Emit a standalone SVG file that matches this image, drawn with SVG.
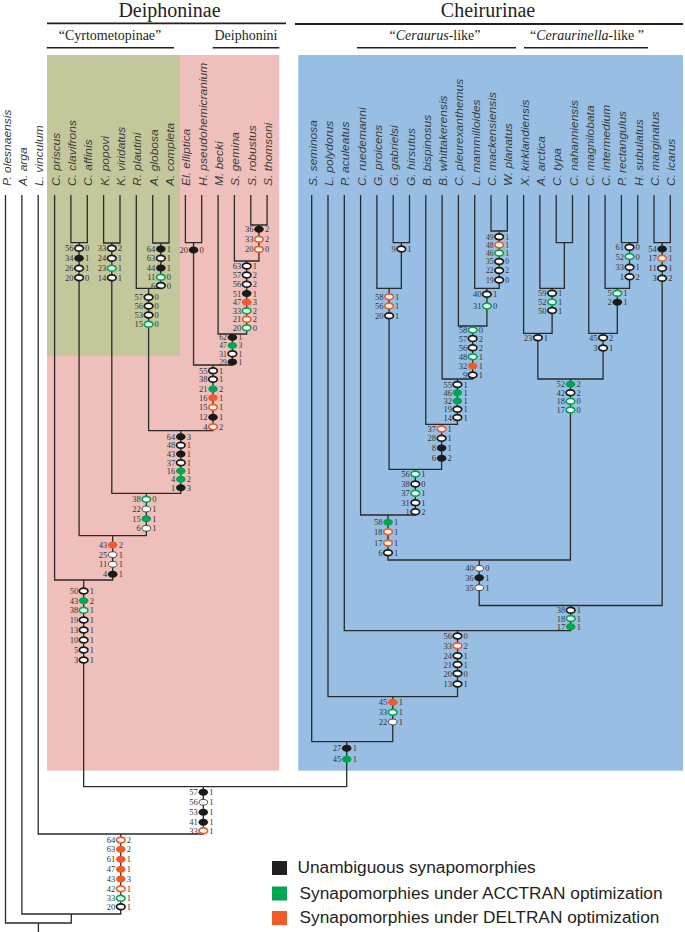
<svg xmlns="http://www.w3.org/2000/svg" xmlns:xlink="http://www.w3.org/1999/xlink" width="685" height="932" viewBox="0 0 685 932">
<style>
.ln{fill:none;stroke:#2a2a2a;stroke-width:1.3}
.ul{stroke:#231f20;stroke-width:1.8}
.ob{fill:#fff;stroke:#1a1a1a;stroke-width:1.7}
.fb{fill:#1a1a1a}
.og{fill:#fff;stroke:#00a651;stroke-width:1.7}
.fg{fill:#00a651}
.oo{fill:#fff;stroke:#f15a29;stroke-width:1.7}
.fo{fill:#f15a29}
.w{fill:#fff;stroke:#333;stroke-width:0.9}
.nl{font-family:"Liberation Serif",serif;font-size:8.5px;fill:#333;text-anchor:end}
.nr{font-family:"Liberation Serif",serif;font-size:8.5px;fill:#333}
#node-H text,#node-c text{font-size:7.6px}
.tx{font-family:"Liberation Sans",Arial,sans-serif;font-style:italic;font-size:10px;fill:#3a3a3a}
.hd{font-family:"Liberation Serif","Times New Roman",serif;fill:#231f20;text-anchor:middle}
.lg{font-family:"Liberation Sans",Arial,sans-serif;font-size:17.3px;fill:#231f20}
</style>
<defs>
<ellipse id="e" cx="0" cy="0" rx="4.3" ry="2.9"/>
<ellipse id="f" cx="0" cy="0" rx="4.8" ry="3.5"/>
</defs>
<rect width="685" height="932" fill="#fff"/>
<rect x="47" y="55" width="232.3" height="715.7" fill="#efc0bb"/>
<rect x="47" y="55" width="133" height="301" fill="#c4c79b"/>
<rect x="298.3" y="55" width="384.7" height="715.7" fill="#98bfe3"/>
<g id="headers">
<text class="hd" x="169.5" y="17" font-size="20">Deiphoninae</text>
<line class="ul" x1="47" y1="23.3" x2="286" y2="23.3"/>
<text class="hd" x="488" y="17" font-size="20">Cheirurinae</text>
<line class="ul" x1="295" y1="24" x2="683" y2="24"/>
<text class="hd" x="110" y="40" font-size="14">“Cyrtometopinae”</text>
<line class="ul" x1="46.7" y1="47.7" x2="174" y2="47.7" style="stroke-width:1.6"/>
<text class="hd" x="246" y="40" font-size="14">Deiphonini</text>
<line class="ul" x1="212.7" y1="47.7" x2="279.3" y2="47.7" style="stroke-width:1.6"/>
<text class="hd" x="435" y="40" font-size="14">“<tspan font-style="italic">Ceraurus</tspan>-like”</text>
<line class="ul" x1="357" y1="47.7" x2="516" y2="47.7" style="stroke-width:1.6"/>
<text class="hd" x="587" y="40" font-size="14">“<tspan font-style="italic">Ceraurinella</tspan>-like ”</text>
<line class="ul" x1="524" y1="47.7" x2="648" y2="47.7" style="stroke-width:1.6"/>
</g>
<g id="connectors" class="ln">
<path d="M70.9 195V242.7H87.3V195"/>
<path d="M103.6 195V243H120V195"/>
<path d="M152.7 195V243H169V195"/>
<path d="M136.3 195V288.3H160.85V243"/>
<path d="M185.4 195V242.7H201.7V195"/>
<path d="M250.8 195V225H267.1V195"/>
<path d="M234.4 195V261H258.95V225"/>
<path d="M218.1 195V334H246.7V261"/>
<path d="M193.55 242.7V365H232.4V334"/>
<path d="M148.6 288.3V430.7H213V365"/>
<path d="M111.8 243V493.3H180.8V430.7"/>
<path d="M79.1 242.7V535.7H146.3V493.3"/>
<path d="M54.6 195V580H112.7V535.7"/>
<path d="M393.2 195V242.7H409.5V195"/>
<path d="M376.9 195V288.3H401.35V242.7"/>
<path d="M491 195V231H507.3V195"/>
<path d="M474.7 195V288.3H499.15V231"/>
<path d="M458.4 195V326H486.9V288.3"/>
<path d="M442.1 195V379H472.65V326"/>
<path d="M425.8 195V424.3H457.4V379"/>
<path d="M389.1 288.3V469.3H441.6V424.3"/>
<path d="M360.6 195V515H415.35V469.3"/>
<path d="M556.2 195V242.7H572.5V195"/>
<path d="M539.9 195V288.3H564.35V242.7"/>
<path d="M523.6 195V333.3H552.1V288.3"/>
<path d="M621.4 195V242.7H637.7V195"/>
<path d="M605.1 195V288.3H629.55V242.7"/>
<path d="M588.8 195V333.3H617.3V288.3"/>
<path d="M537.85 333.3V379H603.05V333.3"/>
<path d="M388 515V560H570.45V379"/>
<path d="M654 195V242.7H670.3V195"/>
<path d="M479.2 560V605.5H662.15V242.7"/>
<path d="M344.3 195V630.7H570.7V605.5"/>
<path d="M328 195V696.7H457.5V630.7"/>
<path d="M311.7 195V741.7H392.75V696.7"/>
<path d="M83.65 580V786.7H346.7V741.7"/>
<path d="M38.2 195V834H203.3V786.7"/>
<path d="M21.9 195V914H120.75V834"/>
<path d="M5.5 195V923H71.3V914"/>
<path d="M38.4 923V932"/>
</g>
<g id="taxa">
<text id="t-P-olesnaensis" class="tx" transform="translate(10.5,186) rotate(-90) scale(1.2,1)">P. olesnaensis</text>
<text id="t-A-arga" class="tx" transform="translate(26.9,186) rotate(-90) scale(1.2,1)">A. arga</text>
<text id="t-L-vinculum" class="tx" transform="translate(43.2,186) rotate(-90) scale(1.2,1)">L. vinculum</text>
<text id="t-C-priscus" class="tx" transform="translate(59.6,186) rotate(-90) scale(1.2,1)">C. priscus</text>
<text id="t-C-clavifrons" class="tx" transform="translate(75.9,186) rotate(-90) scale(1.2,1)">C. clavifrons</text>
<text id="t-C-affinis" class="tx" transform="translate(92.3,186) rotate(-90) scale(1.2,1)">C. affinis</text>
<text id="t-K-popovi" class="tx" transform="translate(108.6,186) rotate(-90) scale(1.2,1)">K. popovi</text>
<text id="t-K-viridatus" class="tx" transform="translate(125,186) rotate(-90) scale(1.2,1)">K. viridatus</text>
<text id="t-R-plautini" class="tx" transform="translate(141.3,186) rotate(-90) scale(1.2,1)">R. plautini</text>
<text id="t-A-globosa" class="tx" transform="translate(157.7,186) rotate(-90) scale(1.2,1)">A. globosa</text>
<text id="t-A-completa" class="tx" transform="translate(174,186) rotate(-90) scale(1.2,1)">A. completa</text>
<text id="t-El-elliptica" class="tx" transform="translate(190.4,186) rotate(-90) scale(1.2,1)">El. elliptica</text>
<text id="t-H-pseudohemicranium" class="tx" transform="translate(206.7,186) rotate(-90) scale(1.2,1)">H. pseudohemicranium</text>
<text id="t-M-becki" class="tx" transform="translate(223.1,186) rotate(-90) scale(1.2,1)">M. becki</text>
<text id="t-S-gemina" class="tx" transform="translate(239.4,186) rotate(-90) scale(1.2,1)">S. gemina</text>
<text id="t-S-robustus" class="tx" transform="translate(255.8,186) rotate(-90) scale(1.2,1)">S. robustus</text>
<text id="t-S-thomsoni" class="tx" transform="translate(272.1,186) rotate(-90) scale(1.2,1)">S. thomsoni</text>
<text id="t-S-seminosa" class="tx" transform="translate(316.7,186) rotate(-90) scale(1.2,1)">S. seminosa</text>
<text id="t-L-polydorus" class="tx" transform="translate(333,186) rotate(-90) scale(1.2,1)">L. polydorus</text>
<text id="t-P-aculeatus" class="tx" transform="translate(349.3,186) rotate(-90) scale(1.2,1)">P. aculeatus</text>
<text id="t-C-ruedemanni" class="tx" transform="translate(365.6,186) rotate(-90) scale(1.2,1)">C. ruedemanni</text>
<text id="t-G-proicens" class="tx" transform="translate(381.9,186) rotate(-90) scale(1.2,1)">G. proicens</text>
<text id="t-G-gabrielsi" class="tx" transform="translate(398.2,186) rotate(-90) scale(1.2,1)">G. gabrielsi</text>
<text id="t-G-hirsutus" class="tx" transform="translate(414.5,186) rotate(-90) scale(1.2,1)">G. hirsutus</text>
<text id="t-B-bispinosus" class="tx" transform="translate(430.8,186) rotate(-90) scale(1.2,1)">B. bispinosus</text>
<text id="t-B-whittakerensis" class="tx" transform="translate(447.1,186) rotate(-90) scale(1.2,1)">B. whittakerensis</text>
<text id="t-C-pleurexanthemus" class="tx" transform="translate(463.4,186) rotate(-90) scale(1.2,1)">C. pleurexanthemus</text>
<text id="t-L-mammilloides" class="tx" transform="translate(479.7,186) rotate(-90) scale(1.2,1)">L. mammilloides</text>
<text id="t-C-mackensiensis" class="tx" transform="translate(496,186) rotate(-90) scale(1.2,1)">C. mackensiensis</text>
<text id="t-W-planatus" class="tx" transform="translate(512.3,186) rotate(-90) scale(1.2,1)">W. planatus</text>
<text id="t-X-kirklandiensis" class="tx" transform="translate(528.6,186) rotate(-90) scale(1.2,1)">X. kirklandiensis</text>
<text id="t-A-arctica" class="tx" transform="translate(544.9,186) rotate(-90) scale(1.2,1)">A. arctica</text>
<text id="t-C-typa" class="tx" transform="translate(561.2,186) rotate(-90) scale(1.2,1)">C. typa</text>
<text id="t-C-nahanniensis" class="tx" transform="translate(577.5,186) rotate(-90) scale(1.2,1)">C. nahanniensis</text>
<text id="t-C-magnilobata" class="tx" transform="translate(593.8,186) rotate(-90) scale(1.2,1)">C. magnilobata</text>
<text id="t-C-intermedium" class="tx" transform="translate(610.1,186) rotate(-90) scale(1.2,1)">C. intermedium</text>
<text id="t-P-rectangulus" class="tx" transform="translate(626.4,186) rotate(-90) scale(1.2,1)">P. rectangulus</text>
<text id="t-H-subulatus" class="tx" transform="translate(642.7,186) rotate(-90) scale(1.2,1)">H. subulatus</text>
<text id="t-C-marginatus" class="tx" transform="translate(659,186) rotate(-90) scale(1.2,1)">C. marginatus</text>
<text id="t-C-icarus" class="tx" transform="translate(675.3,186) rotate(-90) scale(1.2,1)">C. icarus</text>
</g>
<g id="node-A">
<use href="#e" class="ob" x="79.1" y="248.3"/><text class="nl" x="73.6" y="251.3">56</text><text class="nr" x="85.1" y="251.3">0</text>
<use href="#f" class="fb" x="79.1" y="258.3"/><text class="nl" x="73.6" y="261.3">34</text><text class="nr" x="85.1" y="261.3">1</text>
<use href="#e" class="ob" x="79.1" y="268.3"/><text class="nl" x="73.6" y="271.3">26</text><text class="nr" x="85.1" y="271.3">1</text>
<use href="#e" class="ob" x="79.1" y="277.7"/><text class="nl" x="73.6" y="280.7">20</text><text class="nr" x="85.1" y="280.7">0</text>
</g>
<g id="node-B">
<use href="#e" class="ob" x="111.8" y="248.3"/><text class="nl" x="106.3" y="251.3">33</text><text class="nr" x="117.8" y="251.3">2</text>
<use href="#e" class="ob" x="111.8" y="258.3"/><text class="nl" x="106.3" y="261.3">24</text><text class="nr" x="117.8" y="261.3">1</text>
<use href="#e" class="og" x="111.8" y="268.3"/><text class="nl" x="106.3" y="271.3">23</text><text class="nr" x="117.8" y="271.3">1</text>
<use href="#e" class="ob" x="111.8" y="277.7"/><text class="nl" x="106.3" y="280.7">14</text><text class="nr" x="117.8" y="280.7">1</text>
</g>
<g id="node-C">
<use href="#f" class="fb" x="160.85" y="249"/><text class="nl" x="155.35" y="252">64</text><text class="nr" x="166.85" y="252">1</text>
<use href="#e" class="ob" x="160.85" y="258.3"/><text class="nl" x="155.35" y="261.3">63</text><text class="nr" x="166.85" y="261.3">1</text>
<use href="#f" class="fb" x="160.85" y="268"/><text class="nl" x="155.35" y="271">44</text><text class="nr" x="166.85" y="271">1</text>
<use href="#e" class="og" x="160.85" y="277.3"/><text class="nl" x="155.35" y="280.3">11</text><text class="nr" x="166.85" y="280.3">0</text>
<use href="#e" class="ob" x="160.85" y="285.5"/><text class="nl" x="155.35" y="288.5">6</text><text class="nr" x="166.85" y="288.5">0</text>
</g>
<g id="node-D">
<use href="#e" class="ob" x="148.6" y="297.3"/><text class="nl" x="143.1" y="300.3">57</text><text class="nr" x="154.6" y="300.3">0</text>
<use href="#e" class="ob" x="148.6" y="306"/><text class="nl" x="143.1" y="309">56</text><text class="nr" x="154.6" y="309">0</text>
<use href="#e" class="ob" x="148.6" y="315"/><text class="nl" x="143.1" y="318">53</text><text class="nr" x="154.6" y="318">0</text>
<use href="#e" class="og" x="148.6" y="324.3"/><text class="nl" x="143.1" y="327.3">15</text><text class="nr" x="154.6" y="327.3">0</text>
</g>
<g id="node-E">
<use href="#f" class="fb" x="193.55" y="250"/><text class="nl" x="188.05" y="253">20</text><text class="nr" x="199.55" y="253">0</text>
</g>
<g id="node-F">
<use href="#f" class="fb" x="258.95" y="229.3"/><text class="nl" x="253.45" y="232.3">36</text><text class="nr" x="264.95" y="232.3">2</text>
<use href="#e" class="oo" x="258.95" y="239.3"/><text class="nl" x="253.45" y="242.3">33</text><text class="nr" x="264.95" y="242.3">2</text>
<use href="#e" class="oo" x="258.95" y="249.3"/><text class="nl" x="253.45" y="252.3">20</text><text class="nr" x="264.95" y="252.3">0</text>
</g>
<g id="node-G">
<use href="#e" class="ob" x="246.7" y="266"/><text class="nl" x="241.2" y="269">63</text><text class="nr" x="252.7" y="269">1</text>
<use href="#e" class="ob" x="246.7" y="275"/><text class="nl" x="241.2" y="278">57</text><text class="nr" x="252.7" y="278">2</text>
<use href="#e" class="ob" x="246.7" y="284.3"/><text class="nl" x="241.2" y="287.3">56</text><text class="nr" x="252.7" y="287.3">2</text>
<use href="#f" class="fb" x="246.7" y="293.5"/><text class="nl" x="241.2" y="296.5">51</text><text class="nr" x="252.7" y="296.5">1</text>
<use href="#f" class="fo" x="246.7" y="302.3"/><text class="nl" x="241.2" y="305.3">47</text><text class="nr" x="252.7" y="305.3">3</text>
<use href="#e" class="og" x="246.7" y="310.8"/><text class="nl" x="241.2" y="313.8">33</text><text class="nr" x="252.7" y="313.8">2</text>
<use href="#e" class="oo" x="246.7" y="319.3"/><text class="nl" x="241.2" y="322.3">21</text><text class="nr" x="252.7" y="322.3">2</text>
<use href="#e" class="og" x="246.7" y="327.8"/><text class="nl" x="241.2" y="330.8">20</text><text class="nr" x="252.7" y="330.8">0</text>
</g>
<g id="node-H">
<use href="#f" class="fb" x="232.4" y="337.4"/><text class="nl" x="226.9" y="340.2">62</text><text class="nr" x="238.4" y="340.2">1</text>
<use href="#f" class="fg" x="232.4" y="345.6"/><text class="nl" x="226.9" y="348.4">47</text><text class="nr" x="238.4" y="348.4">3</text>
<use href="#e" class="ob" x="232.4" y="353.8"/><text class="nl" x="226.9" y="356.6">31</text><text class="nr" x="238.4" y="356.6">1</text>
<use href="#f" class="fb" x="232.4" y="362"/><text class="nl" x="226.9" y="364.8">29</text><text class="nr" x="238.4" y="364.8">1</text>
</g>
<g id="node-I">
<use href="#e" class="ob" x="213" y="370.7"/><text class="nl" x="207.5" y="373.7">55</text><text class="nr" x="219" y="373.7">1</text>
<use href="#e" class="ob" x="213" y="379.3"/><text class="nl" x="207.5" y="382.3">38</text><text class="nr" x="219" y="382.3">1</text>
<use href="#f" class="fg" x="213" y="389"/><text class="nl" x="207.5" y="392">21</text><text class="nr" x="219" y="392">2</text>
<use href="#f" class="fo" x="213" y="397.7"/><text class="nl" x="207.5" y="400.7">16</text><text class="nr" x="219" y="400.7">1</text>
<use href="#e" class="oo" x="213" y="407.3"/><text class="nl" x="207.5" y="410.3">15</text><text class="nr" x="219" y="410.3">1</text>
<use href="#f" class="fb" x="213" y="417.3"/><text class="nl" x="207.5" y="420.3">12</text><text class="nr" x="219" y="420.3">1</text>
<use href="#e" class="oo" x="213" y="426.7"/><text class="nl" x="207.5" y="429.7">4</text><text class="nr" x="219" y="429.7">2</text>
</g>
<g id="node-J">
<use href="#f" class="fb" x="180.8" y="436.7"/><text class="nl" x="175.3" y="439.7">64</text><text class="nr" x="186.8" y="439.7">3</text>
<use href="#e" class="ob" x="180.8" y="445.3"/><text class="nl" x="175.3" y="448.3">48</text><text class="nr" x="186.8" y="448.3">1</text>
<use href="#f" class="fb" x="180.8" y="454"/><text class="nl" x="175.3" y="457">43</text><text class="nr" x="186.8" y="457">1</text>
<use href="#e" class="ob" x="180.8" y="462.7"/><text class="nl" x="175.3" y="465.7">37</text><text class="nr" x="186.8" y="465.7">1</text>
<use href="#f" class="fg" x="180.8" y="470.9"/><text class="nl" x="175.3" y="473.9">16</text><text class="nr" x="186.8" y="473.9">1</text>
<use href="#f" class="fg" x="180.8" y="479.3"/><text class="nl" x="175.3" y="482.3">4</text><text class="nr" x="186.8" y="482.3">2</text>
<use href="#f" class="fb" x="180.8" y="487.7"/><text class="nl" x="175.3" y="490.7">1</text><text class="nr" x="186.8" y="490.7">3</text>
</g>
<g id="node-K">
<use href="#e" class="og" x="146.3" y="499.3"/><text class="nl" x="140.8" y="502.3">38</text><text class="nr" x="152.3" y="502.3">0</text>
<use href="#e" class="w" x="146.3" y="509"/><text class="nl" x="140.8" y="512">22</text><text class="nr" x="152.3" y="512">1</text>
<use href="#f" class="fg" x="146.3" y="518.7"/><text class="nl" x="140.8" y="521.7">15</text><text class="nr" x="152.3" y="521.7">1</text>
<use href="#e" class="w" x="146.3" y="528.3"/><text class="nl" x="140.8" y="531.3">6</text><text class="nr" x="152.3" y="531.3">1</text>
</g>
<g id="node-L">
<use href="#f" class="fo" x="112.7" y="545"/><text class="nl" x="107.2" y="548">43</text><text class="nr" x="118.7" y="548">2</text>
<use href="#e" class="w" x="112.7" y="554.7"/><text class="nl" x="107.2" y="557.7">25</text><text class="nr" x="118.7" y="557.7">1</text>
<use href="#e" class="w" x="112.7" y="564.3"/><text class="nl" x="107.2" y="567.3">11</text><text class="nr" x="118.7" y="567.3">1</text>
<use href="#f" class="fb" x="112.7" y="574.3"/><text class="nl" x="107.2" y="577.3">4</text><text class="nr" x="118.7" y="577.3">1</text>
</g>
<g id="node-M">
<use href="#e" class="ob" x="83.65" y="591"/><text class="nl" x="78.15" y="594">50</text><text class="nr" x="89.65" y="594">1</text>
<use href="#f" class="fg" x="83.65" y="600.7"/><text class="nl" x="78.15" y="603.7">43</text><text class="nr" x="89.65" y="603.7">2</text>
<use href="#e" class="og" x="83.65" y="610.3"/><text class="nl" x="78.15" y="613.3">38</text><text class="nr" x="89.65" y="613.3">1</text>
<use href="#e" class="ob" x="83.65" y="620"/><text class="nl" x="78.15" y="623">19</text><text class="nr" x="89.65" y="623">1</text>
<use href="#e" class="ob" x="83.65" y="630"/><text class="nl" x="78.15" y="633">13</text><text class="nr" x="89.65" y="633">1</text>
<use href="#e" class="ob" x="83.65" y="640"/><text class="nl" x="78.15" y="643">10</text><text class="nr" x="89.65" y="643">1</text>
<use href="#e" class="ob" x="83.65" y="650"/><text class="nl" x="78.15" y="653">5</text><text class="nr" x="89.65" y="653">1</text>
<use href="#e" class="ob" x="83.65" y="660"/><text class="nl" x="78.15" y="663">3</text><text class="nr" x="89.65" y="663">1</text>
</g>
<g id="node-N">
<use href="#f" class="fb" x="203.3" y="792.3"/><text class="nl" x="197.8" y="795.3">57</text><text class="nr" x="209.3" y="795.3">1</text>
<use href="#e" class="w" x="203.3" y="802.3"/><text class="nl" x="197.8" y="805.3">56</text><text class="nr" x="209.3" y="805.3">1</text>
<use href="#f" class="fb" x="203.3" y="812.3"/><text class="nl" x="197.8" y="815.3">53</text><text class="nr" x="209.3" y="815.3">1</text>
<use href="#f" class="fb" x="203.3" y="822.3"/><text class="nl" x="197.8" y="825.3">41</text><text class="nr" x="209.3" y="825.3">1</text>
<use href="#e" class="oo" x="203.3" y="830.7"/><text class="nl" x="197.8" y="833.7">33</text><text class="nr" x="209.3" y="833.7">1</text>
</g>
<g id="node-O">
<use href="#e" class="oo" x="120.75" y="840"/><text class="nl" x="115.25" y="843">64</text><text class="nr" x="126.75" y="843">2</text>
<use href="#f" class="fo" x="120.75" y="849.3"/><text class="nl" x="115.25" y="852.3">63</text><text class="nr" x="126.75" y="852.3">2</text>
<use href="#f" class="fo" x="120.75" y="859.3"/><text class="nl" x="115.25" y="862.3">61</text><text class="nr" x="126.75" y="862.3">1</text>
<use href="#f" class="fo" x="120.75" y="869.3"/><text class="nl" x="115.25" y="872.3">47</text><text class="nr" x="126.75" y="872.3">1</text>
<use href="#f" class="fo" x="120.75" y="879"/><text class="nl" x="115.25" y="882">43</text><text class="nr" x="126.75" y="882">3</text>
<use href="#e" class="oo" x="120.75" y="888.7"/><text class="nl" x="115.25" y="891.7">42</text><text class="nr" x="126.75" y="891.7">1</text>
<use href="#e" class="og" x="120.75" y="898.3"/><text class="nl" x="115.25" y="901.3">33</text><text class="nr" x="126.75" y="901.3">1</text>
<use href="#e" class="ob" x="120.75" y="906.7"/><text class="nl" x="115.25" y="909.7">20</text><text class="nr" x="126.75" y="909.7">1</text>
</g>
<g id="node-a">
<use href="#e" class="ob" x="401.35" y="249"/><text class="nl" x="395.85" y="252">9</text><text class="nr" x="407.35" y="252">1</text>
</g>
<g id="node-b">
<use href="#e" class="oo" x="389.1" y="296.7"/><text class="nl" x="383.6" y="299.7">58</text><text class="nr" x="395.1" y="299.7">1</text>
<use href="#e" class="oo" x="389.1" y="306"/><text class="nl" x="383.6" y="309">56</text><text class="nr" x="395.1" y="309">1</text>
<use href="#e" class="ob" x="389.1" y="315.7"/><text class="nl" x="383.6" y="318.7">20</text><text class="nr" x="395.1" y="318.7">1</text>
</g>
<g id="node-c">
<use href="#e" class="ob" x="499.15" y="236.7"/><text class="nl" x="493.65" y="239.5">49</text><text class="nr" x="505.15" y="239.5">1</text>
<use href="#e" class="oo" x="499.15" y="244.9"/><text class="nl" x="493.65" y="247.7">48</text><text class="nr" x="505.15" y="247.7">1</text>
<use href="#e" class="og" x="499.15" y="253.1"/><text class="nl" x="493.65" y="255.9">46</text><text class="nr" x="505.15" y="255.9">1</text>
<use href="#e" class="ob" x="499.15" y="261.5"/><text class="nl" x="493.65" y="264.3">35</text><text class="nr" x="505.15" y="264.3">0</text>
<use href="#e" class="ob" x="499.15" y="270.5"/><text class="nl" x="493.65" y="273.3">22</text><text class="nr" x="505.15" y="273.3">2</text>
<use href="#e" class="ob" x="499.15" y="280"/><text class="nl" x="493.65" y="282.8">19</text><text class="nr" x="505.15" y="282.8">0</text>
</g>
<g id="node-d">
<use href="#e" class="ob" x="486.9" y="294.3"/><text class="nl" x="481.4" y="297.3">40</text><text class="nr" x="492.9" y="297.3">1</text>
<use href="#e" class="og" x="486.9" y="306"/><text class="nl" x="481.4" y="309">31</text><text class="nr" x="492.9" y="309">0</text>
</g>
<g id="node-e">
<use href="#e" class="og" x="472.65" y="330"/><text class="nl" x="467.15" y="333">58</text><text class="nr" x="478.65" y="333">0</text>
<use href="#e" class="ob" x="472.65" y="338.6"/><text class="nl" x="467.15" y="341.6">57</text><text class="nr" x="478.65" y="341.6">2</text>
<use href="#e" class="ob" x="472.65" y="347.7"/><text class="nl" x="467.15" y="350.7">56</text><text class="nr" x="478.65" y="350.7">2</text>
<use href="#e" class="og" x="472.65" y="356.7"/><text class="nl" x="467.15" y="359.7">48</text><text class="nr" x="478.65" y="359.7">1</text>
<use href="#f" class="fo" x="472.65" y="366"/><text class="nl" x="467.15" y="369">32</text><text class="nr" x="478.65" y="369">1</text>
<use href="#e" class="ob" x="472.65" y="375"/><text class="nl" x="467.15" y="378">9</text><text class="nr" x="478.65" y="378">1</text>
</g>
<g id="node-f">
<use href="#e" class="ob" x="457.4" y="384.5"/><text class="nl" x="451.9" y="387.5">55</text><text class="nr" x="463.4" y="387.5">1</text>
<use href="#f" class="fg" x="457.4" y="392.8"/><text class="nl" x="451.9" y="395.8">46</text><text class="nr" x="463.4" y="395.8">1</text>
<use href="#f" class="fg" x="457.4" y="401"/><text class="nl" x="451.9" y="404">32</text><text class="nr" x="463.4" y="404">1</text>
<use href="#e" class="ob" x="457.4" y="409.3"/><text class="nl" x="451.9" y="412.3">19</text><text class="nr" x="463.4" y="412.3">1</text>
<use href="#e" class="ob" x="457.4" y="417.5"/><text class="nl" x="451.9" y="420.5">14</text><text class="nr" x="463.4" y="420.5">1</text>
</g>
<g id="node-g">
<use href="#e" class="oo" x="441.6" y="429"/><text class="nl" x="436.1" y="432">37</text><text class="nr" x="447.6" y="432">1</text>
<use href="#e" class="ob" x="441.6" y="438.3"/><text class="nl" x="436.1" y="441.3">28</text><text class="nr" x="447.6" y="441.3">1</text>
<use href="#f" class="fb" x="441.6" y="448"/><text class="nl" x="436.1" y="451">8</text><text class="nr" x="447.6" y="451">1</text>
<use href="#f" class="fb" x="441.6" y="458.3"/><text class="nl" x="436.1" y="461.3">6</text><text class="nr" x="447.6" y="461.3">2</text>
</g>
<g id="node-h">
<use href="#e" class="og" x="415.35" y="474"/><text class="nl" x="409.85" y="477">56</text><text class="nr" x="421.35" y="477">1</text>
<use href="#e" class="ob" x="415.35" y="484"/><text class="nl" x="409.85" y="487">38</text><text class="nr" x="421.35" y="487">0</text>
<use href="#e" class="og" x="415.35" y="493.3"/><text class="nl" x="409.85" y="496.3">37</text><text class="nr" x="421.35" y="496.3">1</text>
<use href="#e" class="ob" x="415.35" y="502.7"/><text class="nl" x="409.85" y="505.7">31</text><text class="nr" x="421.35" y="505.7">1</text>
<use href="#e" class="ob" x="415.35" y="511.7"/><text class="nl" x="409.85" y="514.7">1</text><text class="nr" x="421.35" y="514.7">2</text>
</g>
<g id="node-i">
<use href="#f" class="fg" x="388" y="522.3"/><text class="nl" x="382.5" y="525.3">58</text><text class="nr" x="394" y="525.3">1</text>
<use href="#e" class="oo" x="388" y="531.7"/><text class="nl" x="382.5" y="534.7">18</text><text class="nr" x="394" y="534.7">1</text>
<use href="#e" class="oo" x="388" y="543"/><text class="nl" x="382.5" y="546">17</text><text class="nr" x="394" y="546">1</text>
<use href="#e" class="ob" x="388" y="552.7"/><text class="nl" x="382.5" y="555.7">6</text><text class="nr" x="394" y="555.7">1</text>
</g>
<g id="node-k">
<use href="#e" class="ob" x="552.1" y="293.3"/><text class="nl" x="546.6" y="296.3">59</text><text class="nr" x="558.1" y="296.3">1</text>
<use href="#e" class="og" x="552.1" y="302"/><text class="nl" x="546.6" y="305">52</text><text class="nr" x="558.1" y="305">1</text>
<use href="#e" class="ob" x="552.1" y="310.5"/><text class="nl" x="546.6" y="313.5">50</text><text class="nr" x="558.1" y="313.5">1</text>
</g>
<g id="node-l">
<use href="#e" class="ob" x="537.85" y="337.7"/><text class="nl" x="532.35" y="340.7">23</text><text class="nr" x="543.85" y="340.7">1</text>
</g>
<g id="node-m">
<use href="#e" class="ob" x="629.55" y="247.3"/><text class="nl" x="624.05" y="250.3">61</text><text class="nr" x="635.55" y="250.3">0</text>
<use href="#e" class="og" x="629.55" y="256.5"/><text class="nl" x="624.05" y="259.5">52</text><text class="nr" x="635.55" y="259.5">0</text>
<use href="#e" class="ob" x="629.55" y="267.3"/><text class="nl" x="624.05" y="270.3">33</text><text class="nr" x="635.55" y="270.3">1</text>
<use href="#e" class="ob" x="629.55" y="276.7"/><text class="nl" x="624.05" y="279.7">1</text><text class="nr" x="635.55" y="279.7">2</text>
</g>
<g id="node-n">
<use href="#e" class="og" x="617.3" y="293.3"/><text class="nl" x="611.8" y="296.3">5</text><text class="nr" x="623.3" y="296.3">1</text>
<use href="#f" class="fb" x="617.3" y="302.3"/><text class="nl" x="611.8" y="305.3">2</text><text class="nr" x="623.3" y="305.3">1</text>
</g>
<g id="node-o">
<use href="#e" class="ob" x="603.05" y="337.7"/><text class="nl" x="597.55" y="340.7">45</text><text class="nr" x="609.05" y="340.7">2</text>
<use href="#e" class="ob" x="603.05" y="348"/><text class="nl" x="597.55" y="351">3</text><text class="nr" x="609.05" y="351">1</text>
</g>
<g id="node-p">
<use href="#f" class="fg" x="570.45" y="384.3"/><text class="nl" x="564.95" y="387.3">52</text><text class="nr" x="576.45" y="387.3">2</text>
<use href="#e" class="ob" x="570.45" y="392.7"/><text class="nl" x="564.95" y="395.7">42</text><text class="nr" x="576.45" y="395.7">2</text>
<use href="#e" class="og" x="570.45" y="401.2"/><text class="nl" x="564.95" y="404.2">18</text><text class="nr" x="576.45" y="404.2">0</text>
<use href="#e" class="og" x="570.45" y="410"/><text class="nl" x="564.95" y="413">17</text><text class="nr" x="576.45" y="413">0</text>
</g>
<g id="node-q">
<use href="#e" class="w" x="479.2" y="568.3"/><text class="nl" x="473.7" y="571.3">40</text><text class="nr" x="485.2" y="571.3">0</text>
<use href="#f" class="fb" x="479.2" y="577.7"/><text class="nl" x="473.7" y="580.7">36</text><text class="nr" x="485.2" y="580.7">1</text>
<use href="#e" class="w" x="479.2" y="587.7"/><text class="nl" x="473.7" y="590.7">35</text><text class="nr" x="485.2" y="590.7">1</text>
</g>
<g id="node-r">
<use href="#f" class="fb" x="662.15" y="249"/><text class="nl" x="656.65" y="252">54</text><text class="nr" x="668.15" y="252">1</text>
<use href="#e" class="oo" x="662.15" y="258.3"/><text class="nl" x="656.65" y="261.3">17</text><text class="nr" x="668.15" y="261.3">1</text>
<use href="#e" class="ob" x="662.15" y="268.3"/><text class="nl" x="656.65" y="271.3">11</text><text class="nr" x="668.15" y="271.3">1</text>
<use href="#e" class="ob" x="662.15" y="278.3"/><text class="nl" x="656.65" y="281.3">3</text><text class="nr" x="668.15" y="281.3">2</text>
</g>
<g id="node-s">
<use href="#e" class="ob" x="570.7" y="610.3"/><text class="nl" x="565.2" y="613.3">38</text><text class="nr" x="576.7" y="613.3">1</text>
<use href="#e" class="og" x="570.7" y="618.5"/><text class="nl" x="565.2" y="621.5">18</text><text class="nr" x="576.7" y="621.5">1</text>
<use href="#f" class="fg" x="570.7" y="626.8"/><text class="nl" x="565.2" y="629.8">17</text><text class="nr" x="576.7" y="629.8">1</text>
</g>
<g id="node-t">
<use href="#e" class="ob" x="457.5" y="636"/><text class="nl" x="452" y="639">56</text><text class="nr" x="463.5" y="639">0</text>
<use href="#e" class="oo" x="457.5" y="645.7"/><text class="nl" x="452" y="648.7">33</text><text class="nr" x="463.5" y="648.7">2</text>
<use href="#e" class="ob" x="457.5" y="655.7"/><text class="nl" x="452" y="658.7">24</text><text class="nr" x="463.5" y="658.7">1</text>
<use href="#e" class="ob" x="457.5" y="664.5"/><text class="nl" x="452" y="667.5">21</text><text class="nr" x="463.5" y="667.5">1</text>
<use href="#e" class="ob" x="457.5" y="673.5"/><text class="nl" x="452" y="676.5">20</text><text class="nr" x="463.5" y="676.5">0</text>
<use href="#e" class="ob" x="457.5" y="684"/><text class="nl" x="452" y="687">13</text><text class="nr" x="463.5" y="687">1</text>
</g>
<g id="node-u">
<use href="#f" class="fo" x="392.75" y="702.3"/><text class="nl" x="387.25" y="705.3">45</text><text class="nr" x="398.75" y="705.3">1</text>
<use href="#e" class="og" x="392.75" y="712.3"/><text class="nl" x="387.25" y="715.3">33</text><text class="nr" x="398.75" y="715.3">1</text>
<use href="#e" class="w" x="392.75" y="722"/><text class="nl" x="387.25" y="725">22</text><text class="nr" x="398.75" y="725">1</text>
</g>
<g id="node-v">
<use href="#f" class="fb" x="346.7" y="748.3"/><text class="nl" x="341.2" y="751.3">27</text><text class="nr" x="352.7" y="751.3">1</text>
<use href="#f" class="fg" x="346.7" y="759.3"/><text class="nl" x="341.2" y="762.3">45</text><text class="nr" x="352.7" y="762.3">1</text>
</g>
<g id="legend">
<rect x="272" y="861" width="15" height="14" fill="#231f20"/>
<text class="lg" x="297.5" y="873.3">Unambiguous synapomorphies</text>
<rect x="272" y="886.5" width="15" height="14" fill="#00a651"/>
<text class="lg" x="299.5" y="899.3">Synapomorphies under ACCTRAN optimization</text>
<rect x="272" y="911" width="15" height="14" fill="#f15a29"/>
<text class="lg" x="299.5" y="923.3">Synapomorphies under DELTRAN optimization</text>
</g>
</svg>
